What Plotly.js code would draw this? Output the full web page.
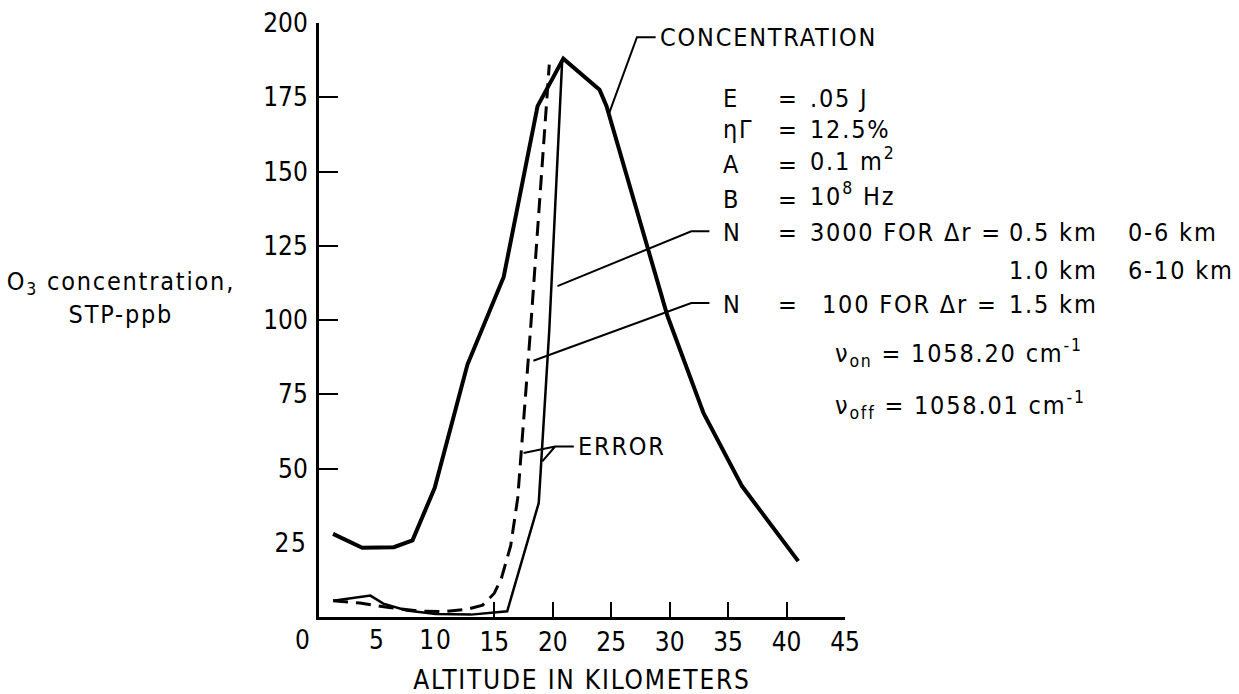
<!DOCTYPE html>
<html>
<head>
<meta charset="utf-8">
<script src="https://cdn.plot.ly/plotly-3.0.1.min.js"></script>
<style>
  html, body { margin: 0; padding: 0; background: #fff; }
  #chart { width: 1239px; height: 694px; }
  .js-plotly-plot .annotation-text { letter-spacing: 1.8px; }
</style>
</head>
<body>
<div id="chart"></div>
<script>
// ---- data ----
const concAltitude = [1.2, 3.7, 6.4, 8.0, 9.9, 12.7, 15.8, 18.7, 20.9, 24.0, 24.6, 29.8, 32.9, 36.2, 41.0];
const concValue    = [28, 23.3, 23.5, 25.8, 43.5, 85, 114.5, 172, 188, 177.5, 172, 101.5, 68.6, 44, 18.8];

const err3000Altitude = [1.2, 4.4, 5.5, 7.5, 10, 13, 16.1, 18.8, 19.7, 20.8];
const err3000Value    = [5.5, 7.2, 4.5, 2.2, 1.0, 0.8, 1.9, 38.4, 96.6, 187];

const err100Altitude = [1.2, 3.5, 6, 8.5, 10.5, 12.7, 14, 15, 15.6, 16.4, 17.0, 18.1, 19.7];
const err100Value    = [5.5, 4.7, 3.2, 2.0, 1.8, 2.6, 4, 8, 13, 24, 40, 97, 186];

// ticks with a mark on the axis
const xTickVals = [15, 20, 25, 30, 35, 40, 45];
const xTickText = ['15', '20', '25', '30', '35', '40', '45'];
const yTickVals = [50, 75, 100, 125, 150, 175, 200];
const yTickText = ['50', '75', '100', '125', '150', '175', '200'];
// tick labels that have no mark in the reference
const xBareTicks = [0, 5, 10];
const yBareTicks = [25];

// ---- drawing ----
const X_MAX = 45, Y_MAX = 200;
const FONT = 'DejaVu Sans Condensed, DejaVu Sans, sans-serif';
const traces = [
  { x: concAltitude, y: concValue, mode: 'lines', line: { color: '#000', width: 4 }, hoverinfo: 'skip' },
  { x: err3000Altitude, y: err3000Value, mode: 'lines', line: { color: '#000', width: 2.5 }, hoverinfo: 'skip' },
  { x: err100Altitude, y: err100Value, mode: 'lines', line: { color: '#000', width: 3, dash: '15px,8px' }, hoverinfo: 'skip' }
];

// annotation positioned in axis units, converted to paper so it may sit outside the axis range
function txt(x, y, text, opts) {
  return Object.assign({ x: x / X_MAX, y: y / Y_MAX, xref: 'paper', yref: 'paper', text: text, showarrow: false,
    xanchor: 'left', yanchor: 'middle', align: 'left', font: { family: FONT, size: 25, color: '#000' } }, opts || {});
}
const tickFont = { family: FONT, size: 26, color: '#000' };

const annotations = [
  txt(29.0, 195.2, 'CONCENTRATION'),
  txt(22.0, 57.4, 'ERROR'),
  // parameter block
  txt(34.4, 174.6, 'E'), txt(39.1, 174.6, '='), txt(41.8, 174.6, '.05 J'),
  txt(34.4, 164.0, 'ηΓ'), txt(39.1, 164.0, '='), txt(41.8, 164.0, '12.5%'),
  txt(34.4, 152.2, 'A'), txt(39.1, 152.2, '='), txt(41.8, 152.2, '0.1 m<sup>2</sup>', { yshift: 5 }),
  txt(34.4, 140.6, 'B'), txt(39.1, 140.6, '='), txt(41.8, 140.6, '10<sup>8</sup> Hz', { yshift: 5 }),
  txt(34.4, 129.5, 'N'), txt(39.1, 129.5, '='), txt(41.8, 129.5, '3000 FOR Δr ='),
  txt(58.9, 129.5, '0.5 km'), txt(69.0, 129.5, '0-6 km'),
  txt(58.9, 116.8, '1.0 km'), txt(69.0, 116.8, '6-10 km'),
  txt(34.4, 105.2, 'N'), txt(39.1, 105.2, '='), txt(42.9, 105.2, '100 FOR Δr ='),
  txt(58.9, 105.2, '1.5 km'),
  txt(44.0, 88.9, 'ν<sub>on</sub> = 1058.20 cm<sup>-1</sup>'),
  txt(44.0, 71.4, 'ν<sub>off</sub> = 1058.01 cm<sup>-1</sup>'),
  // axis titles
  txt(22.5, -21.2, 'ALTITUDE IN KILOMETERS', { xanchor: 'center', align: 'center', font: tickFont }),
  txt(-16.9, 107.4, 'O<sub>3</sub> concentration,<br>STP-ppb', { xanchor: 'center', align: 'center' })
];
// bare tick labels (no tick mark): x ones below the axis, y ones left of it
xBareTicks.forEach(v => annotations.push(
  txt(v, -7.6, String(v), { xanchor: 'center', align: 'center', xshift: v === 0 ? -16 : 0, font: tickFont })));
yBareTicks.forEach(v => annotations.push(
  txt(0, v, String(v), { xanchor: 'right', align: 'right', xshift: -9, font: tickFont })));

const leaderLine = { color: '#000', width: 2 };
const shapes = [
  { type: 'path', xref: 'x', yref: 'y', path: 'M24.8,169.4 L27.2,195.2 L28.8,195.2', line: leaderLine },
  { type: 'path', xref: 'x', yref: 'y', path: 'M33.4,129.9 L31.85,129.9 L20.4,111.4', line: leaderLine },
  { type: 'path', xref: 'x', yref: 'y', path: 'M33.4,105.7 L31.85,105.7 L18.34,86.3', line: leaderLine },
  { type: 'path', xref: 'x', yref: 'y', path: 'M21.8,57.4 L20.2,57.4 L17.5,55.2 M20.2,57.4 L19.1,52.4', line: leaderLine }
];

const layout = {
  width: 1239, height: 694,
  margin: { l: 319, r: 394, t: 23, b: 77, pad: 0 },
  paper_bgcolor: '#fff', plot_bgcolor: '#fff',
  showlegend: false,
  font: { family: FONT, size: 26, color: '#000' },
  xaxis: {
    range: [0, X_MAX], showgrid: false, zeroline: false,
    showline: true, linecolor: '#000', linewidth: 3,
    tickmode: 'array', tickvals: xTickVals, ticktext: xTickText,
    ticks: 'inside', ticklen: 15, tickwidth: 2, tickcolor: '#000',
    tickfont: tickFont, ticklabelstandoff: 0
  },
  yaxis: {
    range: [0, Y_MAX], showgrid: false, zeroline: false,
    showline: true, linecolor: '#000', linewidth: 3,
    tickmode: 'array', tickvals: yTickVals, ticktext: yTickText,
    ticks: 'inside', ticklen: 19, tickwidth: 2, tickcolor: '#000',
    tickfont: tickFont, ticklabelstandoff: 3
  },
  annotations: annotations,
  shapes: shapes
};

Plotly.newPlot('chart', traces, layout, { displayModeBar: false, staticPlot: true });
</script>
</body>
</html>
